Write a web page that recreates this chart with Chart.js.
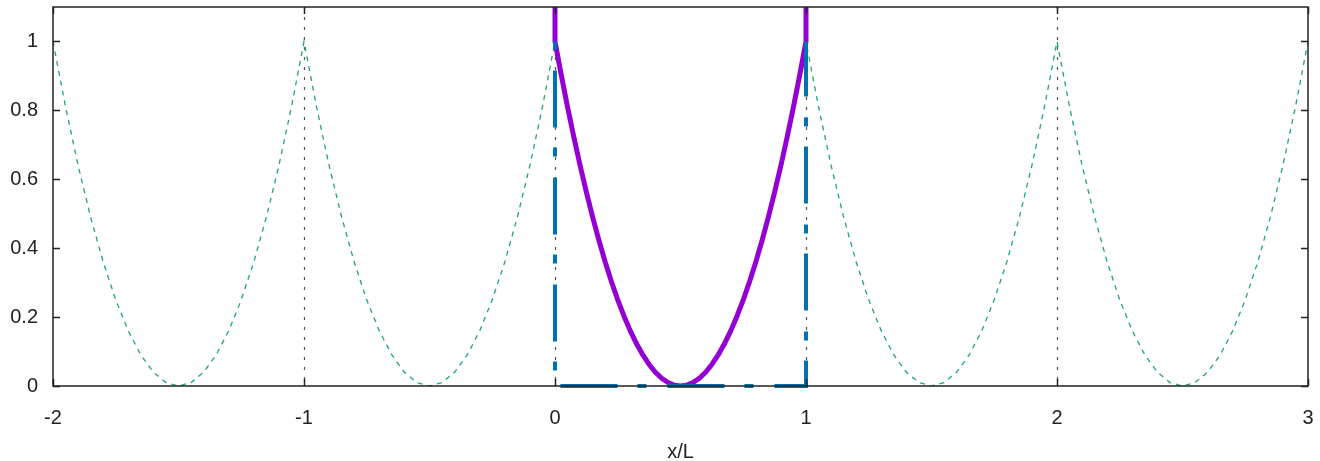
<!DOCTYPE html>
<html>
<head>
<meta charset="utf-8">
<script src="https://cdn.jsdelivr.net/npm/chart.js@4/dist/chart.umd.min.js"></script>
<style>
html,body{margin:0;padding:0;background:#fff;}
canvas{display:block;}
</style>
</head>
<body>
<canvas id="c" width="1320" height="461"></canvas>
<script>
// ---- data ----
const xTicks = [-2, -1, 0, 1, 2, 3];
const yTicks = [0, 0.2, 0.4, 0.6, 0.8, 1];
const vLinesX = [-1, 0, 1, 2];

const greenX = [
 -2,-1.95,-1.9,-1.85,-1.8,-1.75,-1.7,-1.65,-1.6,-1.55,-1.5,-1.45,-1.4,-1.35,-1.3,-1.25,-1.2,-1.15,-1.1,-1.05,
 -1,-0.95,-0.9,-0.85,-0.8,-0.75,-0.7,-0.65,-0.6,-0.55,-0.5,-0.45,-0.4,-0.35,-0.3,-0.25,-0.2,-0.15,-0.1,-0.05,
 0,0.05,0.1,0.15,0.2,0.25,0.3,0.35,0.4,0.45,0.5,0.55,0.6,0.65,0.7,0.75,0.8,0.85,0.9,0.95,
 1,1.05,1.1,1.15,1.2,1.25,1.3,1.35,1.4,1.45,1.5,1.55,1.6,1.65,1.7,1.75,1.8,1.85,1.9,1.95,
 2,2.05,2.1,2.15,2.2,2.25,2.3,2.35,2.4,2.45,2.5,2.55,2.6,2.65,2.7,2.75,2.8,2.85,2.9,2.95,
 3
];
const greenY = [
 1,0.81,0.64,0.49,0.36,0.25,0.16,0.09,0.04,0.01,0,0.01,0.04,0.09,0.16,0.25,0.36,0.49,0.64,0.81,
 1,0.81,0.64,0.49,0.36,0.25,0.16,0.09,0.04,0.01,0,0.01,0.04,0.09,0.16,0.25,0.36,0.49,0.64,0.81,
 1,0.81,0.64,0.49,0.36,0.25,0.16,0.09,0.04,0.01,0,0.01,0.04,0.09,0.16,0.25,0.36,0.49,0.64,0.81,
 1,0.81,0.64,0.49,0.36,0.25,0.16,0.09,0.04,0.01,0,0.01,0.04,0.09,0.16,0.25,0.36,0.49,0.64,0.81,
 1,0.81,0.64,0.49,0.36,0.25,0.16,0.09,0.04,0.01,0,0.01,0.04,0.09,0.16,0.25,0.36,0.49,0.64,0.81,
 1
];

const purpleX = [0,0,
 0.025,0.05,0.075,0.1,0.125,0.15,0.175,0.2,0.225,0.25,0.275,0.3,0.325,0.35,0.375,0.4,0.425,0.45,0.475,0.5,
 0.525,0.55,0.575,0.6,0.625,0.65,0.675,0.7,0.725,0.75,0.775,0.8,0.825,0.85,0.875,0.9,0.925,0.95,0.975,1,1];
const purpleY = [1.3,1,
 0.9025,0.81,0.7225,0.64,0.5625,0.49,0.4225,0.36,0.3025,0.25,0.2025,0.16,0.1225,0.09,0.0625,0.04,0.0225,0.01,0.0025,0,
 0.0025,0.01,0.0225,0.04,0.0625,0.09,0.1225,0.16,0.2025,0.25,0.3025,0.36,0.4225,0.49,0.5625,0.64,0.7225,0.81,0.9025,1,1.3];

const blueX = [0, 0, 1, 1];
const blueY = [1, 0, 0, 1];

function pts(xs, ys){ return xs.map((x,i)=>({x:x, y:ys[i]})); }
function fmt(v){ return String(Math.round(v*10)/10); }
function noPad(s){ s.paddingTop = 0; s.paddingBottom = 0; s.paddingLeft = 0; s.paddingRight = 0; }

const FONT = {family: "'Liberation Sans', Arial, sans-serif", size: 20};

const framePlugin = {
  id: 'frame',
  beforeDatasetsDraw(chart){
    const {ctx, chartArea:a, scales:{x}} = chart;
    ctx.save();
    ctx.strokeStyle = '#555';
    ctx.lineWidth = 1.2;
    ctx.setLineDash([3,7]);
    vLinesX.forEach(v=>{
      const px = Math.round(x.getPixelForValue(v)) + 0.5;
      ctx.beginPath(); ctx.moveTo(px, a.top); ctx.lineTo(px, a.bottom); ctx.stroke();
    });
    ctx.restore();
  },
  afterDatasetsDraw(chart){
    const {ctx, chartArea:a, scales:{x,y}} = chart;
    ctx.save();
    ctx.strokeStyle = '#222';
    ctx.lineWidth = 1.5;
    ctx.setLineDash([]);
    const L = 7;
    ctx.beginPath();
    xTicks.forEach(v=>{
      const px = Math.round(x.getPixelForValue(v)) + 0.5;
      ctx.moveTo(px, a.bottom); ctx.lineTo(px, a.bottom - L);
      ctx.moveTo(px, a.top); ctx.lineTo(px, a.top + L);
    });
    yTicks.forEach(v=>{
      const py = Math.round(y.getPixelForValue(v)) + 0.5;
      ctx.moveTo(a.left, py); ctx.lineTo(a.left + L, py);
      ctx.moveTo(a.right, py); ctx.lineTo(a.right - L, py);
    });
    ctx.stroke();
    ctx.strokeRect(a.left, a.top, a.right - a.left, a.bottom - a.top);
    ctx.restore();
  }
};

new Chart(document.getElementById('c'), {
  type: 'line',
  data: {
    datasets: [
      {data: pts(greenX, greenY), borderColor: '#1aa57a', borderWidth: 1.3, borderDash: [5,5],
       pointRadius: 0, tension: 0, fill: false, order: 3},
      {data: pts(purpleX, purpleY), borderColor: '#9400d3', borderWidth: 5,
       pointRadius: 0, tension: 0, fill: false, clip: 0, order: 2, borderJoinStyle: 'round'},
      {data: pts(blueX, blueY), borderColor: '#0072b2', borderWidth: 4, borderDash: [57,20,9,21],
       borderDashOffset: 78, pointRadius: 0, tension: 0, fill: false, clip: 4, order: 1}
    ]
  },
  options: {
    responsive: false,
    animation: false,
    devicePixelRatio: 1,
    layout: {padding: {top: 7, right: 12, left: 0, bottom: 0}},
    plugins: {legend: {display: false}, tooltip: {enabled: false}},
    scales: {
      x: {
        type: 'linear', min: -2, max: 3,
        grid: {display: false, drawTicks: false},
        border: {display: false},
        ticks: {stepSize: 1, font: FONT, color: '#222', padding: 20, callback: fmt, maxRotation: 0},
        title: {display: true, text: 'x/L', font: FONT, color: '#222', padding: {top: 0, bottom: -3}},
        afterFit(s){ s.height = 75; noPad(s); }
      },
      y: {
        type: 'linear', min: 0, max: 1.1,
        grid: {display: false, drawTicks: false},
        border: {display: false},
        ticks: {stepSize: 0.2, font: FONT, color: '#222', padding: 15, callback: fmt},
        afterBuildTicks(s){ s.ticks = s.ticks.filter(t => t.value <= 1.0001); },
        afterFit(s){ s.width = 53; noPad(s); }
      }
    }
  },
  plugins: [framePlugin]
});
</script>
</body>
</html>
